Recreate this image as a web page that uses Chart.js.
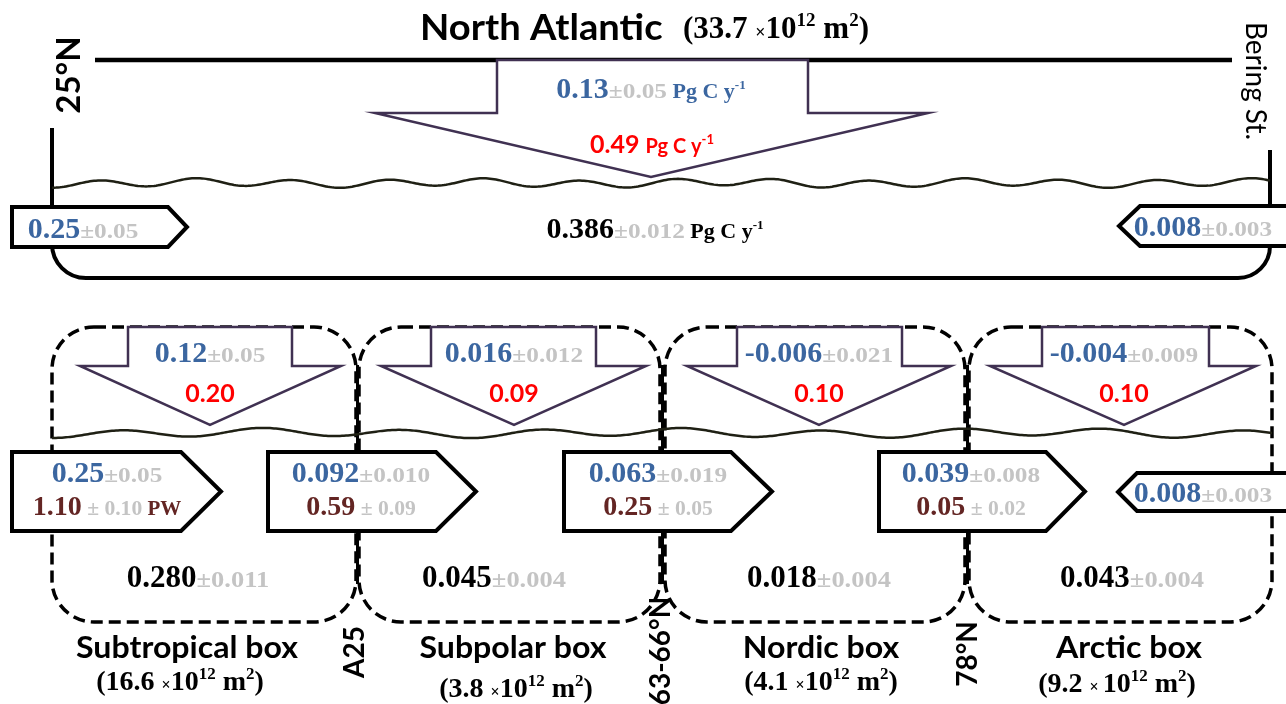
<!DOCTYPE html>
<html>
<head>
<meta charset="utf-8">
<style>
  html, body { margin: 0; padding: 0; background: #fff; }
  #wrap { width: 1286px; height: 704px; position: relative; }
</style>
</head>
<body>
<div id="wrap"><canvas id="diagram"></canvas></div>
<script src="https://cdn.jsdelivr.net/npm/chart.js@4.4.1/dist/chart.umd.min.js"></script>
<script>
// values (Pg C per year unless noted)
const boxNames = ["Subtropical box", "Subpolar box", "Nordic box", "Arctic box"];
const boxAreas = ["16.6", "3.8", "4.1", "9.2"]; // x10^12 m2
const sectionNames = ["A25", "63-66°N", "78°N"];
const airSeaFlux = ["0.12", "0.016", "-0.006", "-0.004"];
const airSeaErr = ["0.05", "0.012", "0.021", "0.009"];
const airSeaRed = ["0.20", "0.09", "0.10", "0.10"];
const storageRate = ["0.280", "0.045", "0.018", "0.043"];
const storageErr = ["0.011", "0.004", "0.004", "0.004"];
const lateralFlux = ["0.25", "0.092", "0.063", "0.039"];
const lateralErr = ["0.05", "0.010", "0.019", "0.008"];
const heatTransport = ["1.10", "0.59", "0.25", "0.05"]; // PW
const heatErr = ["0.10", "0.09", "0.05", "0.02"];
const beringFlux = ["0.008", "0.003"];

const naTitle = "North Atlantic";
const naArea = "33.7";
const naAirSea = ["0.13", "0.05"];
const naAirSeaRed = "0.49";
const naStorage = ["0.386", "0.012"];
const naInflow = ["0.25", "0.05"];

// layout (diagram units = pixels of the original figure)
const boxX = [[52, 356], [359, 660], [665, 965], [969, 1272]];
const sectionX = [357.5, 662.5, 967.5];
const downArrows = [ // body x0, body x1, head x0, head x1, tip x
  [128, 292, 80, 341, 210], [431, 596, 381, 646, 514],
  [737, 902, 687, 951, 819], [1042, 1209, 990, 1256, 1124]];
const sideArrows = [[12, 181, 221], [268, 436, 476], [564, 731, 772], [879, 1046, 1085]];
const sideTextX = [107, 361, 658, 971];
const storageX = [198, 494, 819, 1132];
const nameX = [187, 513, 821, 1129];
const areaX = [180, 516, 821, 1117];
const areaY = [690, 697, 690, 692];
const sectionLabel = [[355, 652], [661, 651], [968, 654]];

const SERIF = '"Liberation Serif", "Times New Roman", serif';
const SANS = 'Lato, "Open Sans", sans-serif';
const BLUE = "#3b66a0", GREY = "#c4c4c4", BROWN = "#632523", RED = "#ff0000";
const PURPLE = "#403152", WAVE = "#1f2014";

function drawRuns(ctx, parts, x, y, align) {
  const w = parts.map(p => { ctx.font = p.f; return ctx.measureText(p.t).width * (p.sx || 1); });
  const total = w.reduce((a, b) => a + b, 0);
  let cx = align === "center" ? x - total / 2 : x;
  ctx.textBaseline = "alphabetic";
  ctx.textAlign = "left";
  parts.forEach((p, i) => {
    ctx.save();
    ctx.font = p.f;
    ctx.fillStyle = p.c;
    ctx.translate(cx, y + (p.dy || 0));
    ctx.scale(p.sx || 1, 1);
    ctx.fillText(p.t, 0, 0);
    ctx.restore();
    cx += w[i];
  });
}

function valErr(val, err, color, size, errSize) {
  return [
    { t: val, f: `bold ${size}px ${SERIF}`, c: color },
    { t: "\u00b1" + err, f: `bold ${errSize}px ${SERIF}`, c: GREY, sx: 1.15 }
  ];
}

function areaRuns(a, size, spaced) {
  const sm = Math.round(size * 0.62);
  return [
    { t: "(" + a + " ", f: `bold ${size}px ${SERIF}`, c: "#000" },
    { t: spaced ? "\u00d7 " : "\u00d7", f: `bold ${Math.round(size * 0.58)}px ${SERIF}`, c: "#000" },
    { t: "10", f: `bold ${size}px ${SERIF}`, c: "#000" },
    { t: "12", f: `bold ${sm}px ${SERIF}`, c: "#000", dy: -size * 0.38 },
    { t: " m", f: `bold ${size}px ${SERIF}`, c: "#000" },
    { t: "2", f: `bold ${sm}px ${SERIF}`, c: "#000", dy: -size * 0.38 },
    { t: ")", f: `bold ${size}px ${SERIF}`, c: "#000" }
  ];
}

const diagramPlugin = {
  id: "carbonBoxes",
  afterDatasetsDraw(chart) {
    const ctx = chart.ctx;
    const X = v => chart.scales.x.getPixelForValue(v);
    const Y = v => chart.scales.y.getPixelForValue(v);

    function poly(pts, stroke, lw) {
      ctx.beginPath();
      pts.forEach((p, i) => (i ? ctx.lineTo(X(p[0]), Y(p[1])) : ctx.moveTo(X(p[0]), Y(p[1]))));
      ctx.closePath();
      ctx.fillStyle = "#fff";
      ctx.fill();
      ctx.lineJoin = "miter";
      ctx.lineWidth = lw;
      ctx.strokeStyle = stroke;
      ctx.stroke();
    }
    function line(pts, color, lw, dash) {
      ctx.beginPath();
      pts.forEach((p, i) => (i ? ctx.lineTo(X(p[0]), Y(p[1])) : ctx.moveTo(X(p[0]), Y(p[1]))));
      ctx.setLineDash(dash || []);
      ctx.lineWidth = lw;
      ctx.strokeStyle = color;
      ctx.stroke();
      ctx.setLineDash([]);
    }
    function wave(x0, x1, yb, period, amp) {
      ctx.beginPath();
      for (let x = x0; x <= x1; x += 2) {
        const t = x - x0;
        const y = yb + amp * Math.cos(2 * Math.PI * t / period) + amp * 0.35 * Math.sin(2 * Math.PI * t / (period * 2.7) + 1);
        x === x0 ? ctx.moveTo(X(x), Y(y)) : ctx.lineTo(X(x), Y(y));
      }
      ctx.lineWidth = 2.5;
      ctx.strokeStyle = WAVE;
      ctx.stroke();
    }
    function roundBox(x0, y0, x1, y1, r) {
      ctx.beginPath();
      ctx.moveTo(X(x0 + r), Y(y0));
      ctx.arcTo(X(x1), Y(y0), X(x1), Y(y1), r);
      ctx.arcTo(X(x1), Y(y1), X(x0), Y(y1), r);
      ctx.arcTo(X(x0), Y(y1), X(x0), Y(y0), r);
      ctx.arcTo(X(x0), Y(y0), X(x1), Y(y0), r);
      ctx.closePath();
      ctx.setLineDash([12, 6]);
      ctx.lineWidth = 3.5;
      ctx.strokeStyle = "#000";
      ctx.stroke();
      ctx.setLineDash([]);
    }
    function rotText(txt, x, y, font, angle) {
      ctx.save();
      ctx.translate(X(x), Y(y));
      ctx.rotate(angle);
      ctx.font = font;
      ctx.fillStyle = "#000";
      ctx.textAlign = "center";
      ctx.textBaseline = "middle";
      ctx.fillText(txt, 0, 0);
      ctx.restore();
    }

    ctx.save();
    ctx.lineCap = "butt";

    // ---------- North Atlantic (top) ----------
    line([[95, 60], [1232, 60]], "#000", 4.5);
    ctx.beginPath();
    ctx.moveTo(X(52), Y(128));
    ctx.arcTo(X(52), Y(278), X(120), Y(278), 34);
    ctx.arcTo(X(1270), Y(278), X(1270), Y(150), 32);
    ctx.lineTo(X(1270), Y(150));
    ctx.lineWidth = 4;
    ctx.strokeStyle = "#000";
    ctx.stroke();
    wave(52, 1270, 183, 96, 3.6);

    poly([[497, 60], [808, 60], [808, 113], [928, 113], [651, 177], [375, 113], [497, 113]], PURPLE, 2.5);
    poly([[12, 207], [168, 207], [187, 227], [168, 247], [12, 247]], "#000", 4);
    poly([[1119, 226], [1140, 206], [1300, 206], [1300, 246], [1140, 246]], "#000", 4);

    drawRuns(ctx, [{ t: naTitle, f: `bold 36px ${SANS}`, c: "#000", sx: 1.06 }], X(420), Y(40), "left");
    drawRuns(ctx, areaRuns(naArea, 31, false), X(683), Y(38), "left");
    rotText("25\u00b0N", 69, 75, `bold 33px ${SANS}`, -Math.PI / 2);
    rotText("Bering St.", 1255, 81, `28px ${SANS}`, Math.PI / 2);

    drawRuns(ctx, valErr(naAirSea[0], naAirSea[1], BLUE, 30, 22).concat([
      { t: " Pg C y", f: `bold 22px ${SERIF}`, c: BLUE },
      { t: "-1", f: `bold 13px ${SERIF}`, c: BLUE, dy: -9 }]), X(651), Y(98), "center");
    drawRuns(ctx, [
      { t: naAirSeaRed + " ", f: `bold 25px ${SANS}`, c: RED },
      { t: "Pg C y", f: `bold 20px ${SANS}`, c: RED },
      { t: "-1", f: `bold 13px ${SANS}`, c: RED, dy: -9 }], X(652), Y(153), "center");
    drawRuns(ctx, valErr(naStorage[0], naStorage[1], "#000", 30, 22).concat([
      { t: " Pg C y", f: `bold 22px ${SERIF}`, c: "#000" },
      { t: "-1", f: `bold 13px ${SERIF}`, c: "#000", dy: -9 }]), X(655), Y(238), "center");
    drawRuns(ctx, valErr(naInflow[0], naInflow[1], BLUE, 30, 22), X(83), Y(238), "center");
    drawRuns(ctx, valErr(beringFlux[0], beringFlux[1], BLUE, 30, 22), X(1203), Y(236), "center");

    // ---------- regional boxes (bottom) ----------
    boxX.forEach(b => roundBox(b[0], 327, b[1], 622, 42));
    sectionX.forEach(x => line([[x, 365], [x, 584]], "#000", 3));
    wave(52, 1272, 433, 140, 3.8);

    downArrows.forEach(a => poly([[a[0], 327], [a[1], 327], [a[1], 366], [a[3], 366], [a[4], 425], [a[2], 366], [a[0], 366]], PURPLE, 2.5));
    sideArrows.forEach(a => poly([[a[0], 452], [a[1], 452], [a[2], 491.5], [a[1], 531], [a[0], 531]], "#000", 4));
    poly([[1118, 492], [1137, 473], [1300, 473], [1300, 511], [1137, 511]], "#000", 4);

    boxNames.forEach((name, i) => {
      const tip = downArrows[i][4];
      drawRuns(ctx, valErr(airSeaFlux[i], airSeaErr[i], BLUE, 30, 22), X(tip), Y(362), "center");
      drawRuns(ctx, [{ t: airSeaRed[i], f: `bold 25px ${SANS}`, c: RED }], X(tip), Y(402), "center");
      drawRuns(ctx, valErr(lateralFlux[i], lateralErr[i], BLUE, 30, 22), X(sideTextX[i]), Y(482), "center");
      const row2 = [
        { t: heatTransport[i], f: `bold 28px ${SERIF}`, c: BROWN },
        { t: " \u00b1 " + heatErr[i], f: `bold 20px ${SERIF}`, c: GREY, sx: 1.08 }];
      if (i === 0) row2.push({ t: " PW", f: `bold 21px ${SERIF}`, c: BROWN });
      drawRuns(ctx, row2, X(sideTextX[i]), Y(515), "center");
      drawRuns(ctx, valErr(storageRate[i], storageErr[i], "#000", 31, 23), X(storageX[i]), Y(587), "center");
      drawRuns(ctx, [{ t: name, f: `bold 30px ${SANS}`, c: "#000", sx: 1.07 }], X(nameX[i]), Y(658), "center");
      drawRuns(ctx, areaRuns(boxAreas[i], 28, i === 3), X(areaX[i]), Y(areaY[i]), "center");
    });
    drawRuns(ctx, valErr(beringFlux[0], beringFlux[1], BLUE, 30, 22), X(1203), Y(502), "center");

    sectionNames.forEach((s, i) => rotText(s, sectionLabel[i][0], sectionLabel[i][1], `bold 28px ${SANS}`, -Math.PI / 2));

    ctx.restore();
  }
};

const chart = new Chart(document.getElementById("diagram"), {
  type: "scatter",
  data: {
    datasets: [{
      label: "box centres",
      data: boxX.map(b => ({ x: (b[0] + b[1]) / 2, y: 475 })),
      pointRadius: 0
    }]
  },
  options: {
    responsive: true,
    maintainAspectRatio: false,
    animation: false,
    events: [],
    layout: { padding: 0 },
    plugins: { legend: { display: false }, tooltip: { enabled: false } },
    scales: {
      x: { type: "linear", min: 0, max: 1286, display: false },
      y: { type: "linear", min: 0, max: 704, reverse: true, display: false }
    }
  },
  plugins: [diagramPlugin]
});
</script>
</body>
</html>
